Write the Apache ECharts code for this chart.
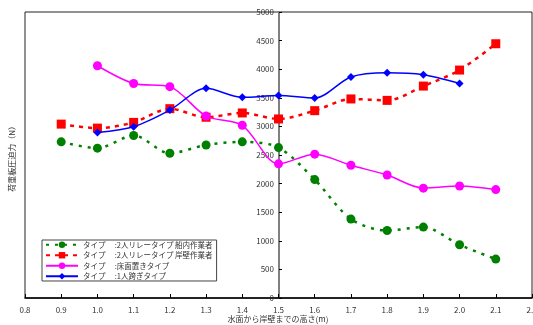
<!DOCTYPE html>
<html><head><meta charset="utf-8">
<script src="https://cdn.jsdelivr.net/npm/echarts@6/dist/echarts.min.js"></script>
<style>html,body{margin:0;padding:0;background:#fff}#c{width:533px;height:325px}</style>
</head><body><div id="c"></div>
<script>
var xValues = [0.9, 1.0, 1.1, 1.2, 1.3, 1.4, 1.5, 1.6, 1.7, 1.8, 1.9, 2.0, 2.1];
var seriesNames = [
  'タイプ　 :2人リレータイプ 船内作業者',
  'タイプ　 :2人リレータイプ 岸壁作業者',
  'タイプ　 :床面置きタイプ',
  'タイプ　 :1人跨ぎタイプ'
];
var relayInside = [2730, 2620, 2840, 2530, 2675, 2730, 2630, 2070, 1380, 1180, 1240, 930, 680];
var relayQuay   = [3040, 2970, 3070, 3310, 3160, 3235, 3130, 3275, 3480, 3455, 3705, 3985, 4445];
var floorType   = [null, 4060, 3750, 3695, 3180, 3020, 2345, 2515, 2320, 2150, 1920, 1958, 1895];
var straddle    = [null, 2895, 2995, 3285, 3665, 3508, 3540, 3497, 3864, 3938, 3904, 3752, null];
var yTitle = '荷重板圧迫力（N）';
var xTitle = '水面から岸壁までの高さ(m)';

function pairs(arr){ var o=[]; for(var i=0;i<xValues.length;i++){ if(arr[i]!==null) o.push([xValues[i], arr[i]]); } return o; }

var chart = echarts.init(document.getElementById('c'));
var font = 'Noto Sans CJK JP';
chart.setOption({
  animation:false,
  textStyle:{fontFamily:font},
  grid:{left:25, right:1, top:12, bottom:27, containLabel:false, outerBoundsMode:'none',
    show:true, borderColor:'#222', borderWidth:1, backgroundColor:'#fff'},
  xAxis:{type:'value', min:0.8, max:2.2, interval:0.1,
    axisLine:{lineStyle:{color:'#000', width:1.5}},
    axisTick:{inside:true, length:4, lineStyle:{color:'#000'}},
    axisLabel:{fontSize:8, color:'#333', margin:8, formatter:function(v){return v.toFixed(1);}},
    splitLine:{show:false}
  },
  yAxis:{type:'value', min:0, max:5000, interval:500, position:'left', offset:-254,
    axisLine:{show:true, lineStyle:{color:'#808080', width:2}},
    axisTick:{show:true, inside:true, length:3, lineStyle:{color:'#000'}},
    axisLabel:{fontSize:8, color:'#333', margin:5, formatter:function(v){return String(v);}},
    splitLine:{show:false}
  },
  graphic:[
    {type:'text', left:8, top:122, rotation:Math.PI/2,
      style:{text:yTitle, font:'8px "Noto Sans CJK JP"', fill:'#333'}},
    {type:'text', x:278, y:319,
      style:{text:xTitle, font:'8px "Noto Sans CJK JP"', fill:'#333', align:'center', verticalAlign:'middle'}}
  ],
  legend:{orient:'vertical', left:42, top:240, itemGap:3, itemWidth:32, itemHeight:8,
    borderColor:'#444', borderWidth:1, padding:[1,4,1,3], backgroundColor:'#fff',
    textStyle:{fontSize:7.5, color:'#333'}, data:seriesNames},
  series:[
    {name:seriesNames[0], type:'line', smooth:0.3, data:pairs(relayInside), symbol:'circle', symbolSize:9,
      itemStyle:{color:'#008000'}, lineStyle:{color:'#008000', width:2.5, type:[3,6]}, z:3},
    {name:seriesNames[1], type:'line', smooth:0.3, data:pairs(relayQuay), symbol:'rect', symbolSize:9,
      itemStyle:{color:'#ff0000'}, lineStyle:{color:'#ff0000', width:2.5, type:[4,5]}, z:4},
    {name:seriesNames[2], type:'line', smooth:0.3, data:pairs(floorType), symbol:'circle', symbolSize:9,
      itemStyle:{color:'#ff00ff'}, lineStyle:{color:'#ff00ff', width:1.5}, z:5},
    {name:seriesNames[3], type:'line', smooth:0.3, data:pairs(straddle), symbol:'diamond', symbolSize:8,
      itemStyle:{color:'#0000ff'}, lineStyle:{color:'#0000ff', width:1.5}, z:6}
  ]
});
</script></body></html>
